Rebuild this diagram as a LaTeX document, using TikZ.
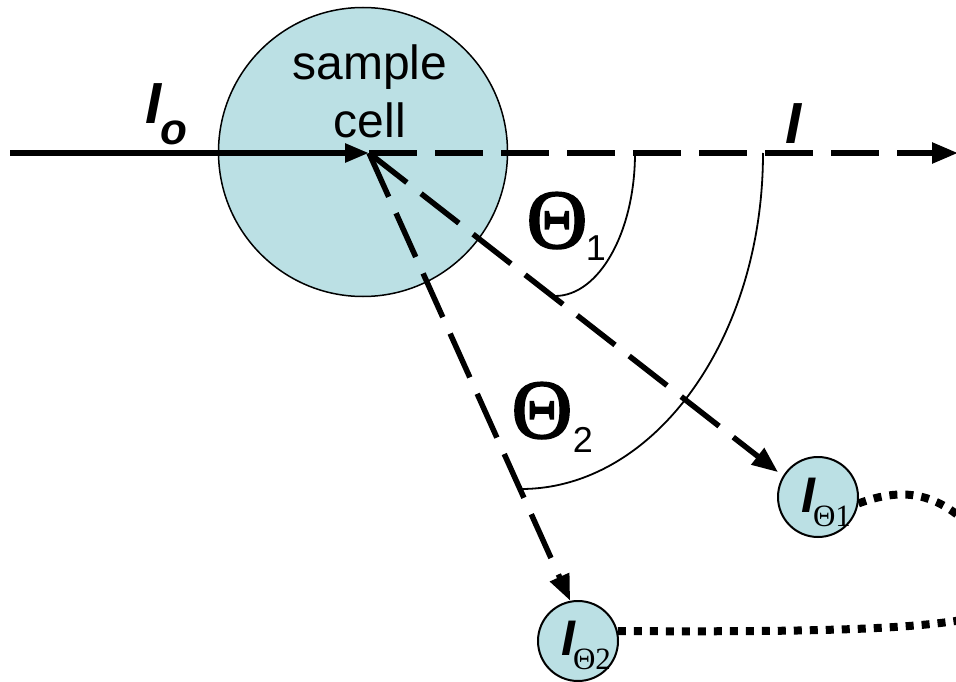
\documentclass[tikz,border=0pt]{standalone}
\usepackage{fontspec}
\setmainfont{Liberation Sans}
\newfontfamily\tms{Liberation Serif}
\newfontfamily\tmsheavy[FakeBold=2.2]{Liberation Serif}
\usetikzlibrary{arrows.meta}
\definecolor{cellblue}{RGB}{187,224,228}
\begin{document}
\begin{tikzpicture}[x=1pt,y=-1pt,
  beam/.style={line width=5.5pt},
  dashbeam/.style={line width=5.5pt, dash pattern=on 48pt off 18pt},
  tip/.style={-{Triangle[length=26pt,width=20pt]}},
  anglearc/.style={line width=1.8pt},
  dotbeam/.style={line width=8pt, dash pattern=on 8pt off 8pt},
  cellshape/.style={circle, draw, fill=cellblue, line width=1.5pt, inner sep=0pt},
  lbl/.style={inner sep=0pt, anchor=base}]
\useasboundingbox (0,0) rectangle (956,682);
\clip (0,0) rectangle (956,682);
% cells
\node[cellshape, minimum size=289pt] (cell) at (363,152) {};
\node[cellshape, minimum size=80pt, line width=2pt] (d1) at (818,497) {};
\node[cellshape, minimum size=80pt, line width=2pt] (d2) at (578,641) {};
% beams
\coordinate (src) at (10,153);
\coordinate (hub) at (369,153);
\coordinate (out) at (958,153);
\draw[dashbeam, tip] (hub) -- (out);
\draw[dashbeam, tip, shorten >=6pt] (hub) -- (d1.149);
\draw[dashbeam, tip] (hub) -- (d2.101);
\draw[beam, -{Triangle[length=24pt,width=18pt]}] (src) -- (hub);
% angle arcs
\coordinate (a1s) at (635,153); \coordinate (a1e) at (555,296);
\draw[anglearc] (a1s) .. controls (635,232) and (599,296) .. (a1e);
\coordinate (a2s) at (763,153); \coordinate (a2e) at (521,489);
\draw[anglearc] (a2s) .. controls (763,339) and (654,489) .. (a2e);
% dotted leads
\coordinate (r1) at (968,524);
\coordinate (r2) at (962,620);
\draw[dotbeam] (d1.-9) .. controls (895,490) and (930,488) .. (r1);
\draw[dotbeam] (d2.14) .. controls (800,632) and (900,630) .. (r2);
% labels
\node[lbl, font=\fontsize{48}{48}\selectfont] (t1) at (370,80) {sample};
\node[lbl, font=\fontsize{48}{48}\selectfont] (t2) at (370,138) {cell};
\node[lbl, font=\fontsize{58}{58}\selectfont\bfseries\itshape] (io) at (154,124) {I};
\node[lbl, font=\fontsize{44}{44}\selectfont\bfseries\itshape] (iosub) at (174,145) {o};
\node[lbl, font=\fontsize{58}{58}\selectfont\bfseries\itshape] (iout) at (794,143) {I};
\node[lbl, font=\tmsheavy\fontsize{84}{84}\selectfont] (th1) at (557,248) {Θ};
\node[lbl, font=\fontsize{36}{36}\selectfont] (th1s) at (596,260) {1};
\node[lbl, font=\tmsheavy\fontsize{84}{84}\selectfont] (th2) at (542,438) {Θ};
\node[lbl, font=\fontsize{36}{36}\selectfont] (th2s) at (583,452) {2};
\node[lbl, font=\fontsize{50}{50}\selectfont\bfseries\itshape] (i1) at (808,512) {I};
\node[lbl, font=\tms\fontsize{31}{31}\selectfont] (i1s) at (832,526) {Θ1};
\node[lbl, font=\fontsize{50}{50}\selectfont\bfseries\itshape] (i2) at (568,655) {I};
\node[lbl, font=\tms\fontsize{31}{31}\selectfont] (i2s) at (592,669) {Θ2};
\end{tikzpicture}
\end{document}
